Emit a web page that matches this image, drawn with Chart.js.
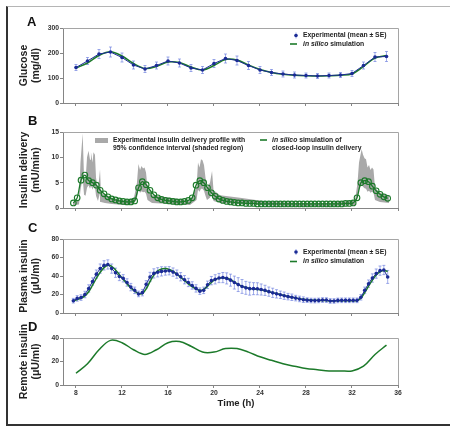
<!DOCTYPE html>
<html>
<head>
<meta charset="utf-8">
<script src="https://cdn.jsdelivr.net/npm/chart.js@4.4.1/dist/chart.umd.min.js"></script>
<style>
    body { margin: 0; background: #fff; }
    #fig { position: relative; width: 450px; height: 434px; overflow: hidden; font-family: 'Liberation Sans', Arial, sans-serif; }
    #frame { position: absolute; left: 6px; top: 6px; width: 470px; height: 417px; border-left: 2px solid #333; border-top: 1px solid #b5b5b5; border-bottom: 2px solid #333; }
    .panel { position: absolute; left: 0; width: 450px; }
    .panel canvas { display: block; }
    .tag { position: absolute; font-weight: bold; font-size: 13px; line-height: 13px; color: #111; }
    #xtitle { position: absolute; left: 186px; width: 100px; top: 397px; text-align: center; font-weight: bold; font-size: 9.5px; line-height: 11px; color: #222; }
</style>
</head>
<body>
<div id="fig">
    <div id="frame"></div>
    <div class="panel" style="top:18px;height:91px"><canvas id="chartA" width="450" height="91"></canvas></div>
    <div class="panel" style="top:122px;height:92px"><canvas id="chartB" width="450" height="92"></canvas></div>
    <div class="panel" style="top:229px;height:90px"><canvas id="chartC" width="450" height="90"></canvas></div>
    <div class="panel" style="top:320px;height:80px"><canvas id="chartD" width="450" height="80"></canvas></div>
    <div class="tag" style="left:27px;top:15px">A</div>
    <div class="tag" style="left:28px;top:114px">B</div>
    <div class="tag" style="left:28px;top:221px">C</div>
    <div class="tag" style="left:28px;top:320px">D</div>
    <div id="xtitle">Time (h)</div>
</div>
<script>
// ---- time axis (hours) ----
const X_MIN = 6.87;
const X_MAX = 36;
const TICK_HOURS = [8, 12, 16, 20, 24, 28, 32, 36];
const SAMPLE_START = 7.77;   // first 20-min sample
const SAMPLE_STEP = 1 / 3;   // 20 min
const HOURS = [8, 9, 10, 11, 12, 13, 14, 15, 16, 17, 18, 19, 20, 21, 22, 23, 24, 25, 26, 27, 28, 29, 30, 31, 32, 33, 34, 35];

// ---- A: glucose (mg/dl), hourly ----
const glucoseExp = [142, 168, 196, 204, 182, 152, 136, 150, 168, 160, 140, 132, 158, 178, 170, 150, 132, 122, 116, 112, 110, 108, 110, 112, 118, 150, 184, 186];
const glucoseErr = [12, 14, 18, 20, 18, 16, 14, 14, 16, 16, 14, 14, 16, 18, 18, 16, 14, 12, 12, 12, 10, 10, 10, 10, 12, 14, 18, 20];
const glucoseSim = [140, 160, 190, 205, 188, 158, 138, 146, 164, 162, 144, 132, 150, 174, 172, 152, 134, 122, 115, 111, 109, 108, 109, 111, 116, 146, 180, 190];

// ---- B: insulin delivery (mU/min) ----
const deliveryTimes = [7.74, 8.26, 8.39, 8.58, 8.70, 8.83, 8.96, 9.09, 9.22, 9.30, 9.44, 9.52, 9.65, 9.74, 9.91, 10.09, 10.17, 10.52, 11.13, 12.26,
    13.04, 13.30, 13.43, 13.57, 13.70, 13.83, 13.96, 14.09, 14.22, 14.61, 16.17, 17.91, 18.48, 18.61, 18.74, 18.87, 19.00, 19.13, 19.26, 19.39,
    19.65, 19.83, 19.96, 20.52, 22.26, 24.87, 27.48, 30.09, 32.26, 32.48, 32.61, 32.74, 32.84, 32.96, 33.09, 33.22, 33.35, 33.48, 33.61, 33.74,
    33.87, 34.00, 34.43, 35.22];
const deliveryUpper = [1.2, 1.5, 9.0, 14.7, 6.0, 5.5, 10.0, 11.3, 9.5, 11.0, 9.0, 11.0, 10.5, 6.0, 3.5, 7.6, 3.0, 2.5, 2.0, 1.5,
    2.0, 5.0, 8.7, 7.5, 8.3, 7.8, 8.0, 7.0, 4.0, 2.5, 2.0, 1.5, 4.0, 9.0, 8.0, 9.6, 9.4, 8.5, 6.0, 4.0,
    5.0, 7.3, 3.5, 2.5, 2.0, 1.2, 1.0, 1.0, 1.5, 5.0, 9.0, 10.5, 11.6, 10.5, 9.8, 9.6, 8.0, 8.5, 7.5, 8.0,
    7.6, 4.0, 3.0, 2.5];
const deliveryLower = [0.6, 0.7, 3.5, 6.0, 2.6, 2.4, 4.0, 4.5, 3.8, 4.4, 3.6, 4.4, 4.2, 2.4, 1.4, 3.0, 1.2, 1.0, 0.8, 0.6,
    0.8, 2.0, 3.5, 3.0, 3.3, 3.1, 3.2, 2.8, 1.6, 1.0, 0.8, 0.6, 1.6, 3.6, 3.2, 3.8, 3.8, 3.4, 2.4, 1.6,
    2.0, 2.9, 1.4, 1.0, 0.8, 0.5, 0.4, 0.4, 0.6, 2.0, 3.6, 4.2, 4.6, 4.2, 3.9, 3.8, 3.2, 3.4, 3.0, 3.2,
    3.0, 1.6, 1.2, 1.0];
const deliverySim = [1.0, 2.0, 5.5, 6.5, 5.4, 5.0, 4.5, 3.5, 2.8, 2.2,
    1.8, 1.6, 1.4, 1.3, 1.2, 1.2, 1.4, 4.0, 5.2, 4.6,
    3.5, 2.6, 2.0, 1.7, 1.5, 1.4, 1.3, 1.2, 1.2, 1.3,
    1.5, 2.0, 4.5, 5.4, 5.0, 4.0, 3.0, 2.3, 1.8, 1.5,
    1.3, 1.2, 1.1, 1.0, 1.0, 0.9, 0.9, 0.9, 0.8, 0.8,
    0.8, 0.8, 0.8, 0.8, 0.8, 0.8, 0.8, 0.8, 0.8, 0.8,
    0.8, 0.8, 0.8, 0.8, 0.8, 0.8, 0.8, 0.8, 0.8, 0.8,
    0.8, 0.9, 0.9, 1.0, 2.0, 5.0, 5.4, 5.2, 4.3, 3.4,
    2.7, 2.2, 1.9];

// ---- C: plasma insulin (uU/ml), 20-min samples ----
const plasmaExp = [13.3, 15.8, 16.7, 20.0, 26.5, 34.0, 42.0, 48.0, 51.5, 52.5,
    48.0, 43.5, 39.5, 37.5, 33.0, 28.0, 24.5, 20.6, 22.0, 31.0,
    39.0, 42.8, 44.0, 45.0, 45.4, 45.7, 44.2, 42.0, 39.2, 36.0,
    33.0, 29.8, 26.6, 23.6, 24.5, 30.5, 35.0, 36.4, 37.8, 38.3,
    37.4, 35.5, 32.9, 30.7, 28.7, 27.2, 26.3, 26.3, 26.2, 25.4,
    24.5, 23.1, 21.8, 20.7, 19.7, 18.7, 17.7, 17.0, 16.1, 15.2,
    14.4, 13.9, 13.5, 13.4, 13.6, 14.0, 14.0, 13.0, 13.0, 13.6,
    13.7, 13.7, 13.7, 13.7, 13.7, 17.0, 24.5, 31.7, 37.8, 42.6,
    45.8, 46.5, 39.0];
const plasmaErr = [2.5, 3, 3, 3.5, 4, 4, 4.5, 5, 5, 5,
    5, 5, 4.5, 4, 4, 4, 3.5, 3, 3.5, 4,
    5, 5, 5, 5, 4.5, 4.5, 4.5, 4.5, 4.5, 4.5,
    4.5, 4, 4, 3.5, 3.5, 4, 4.5, 5, 5, 5.5,
    6, 6.5, 7, 7.5, 7.5, 7, 7, 6.5, 6.5, 6,
    5.5, 5, 5, 4.5, 4, 4, 3.5, 3.5, 3, 3,
    3, 2.5, 2.5, 2.5, 2.5, 2.5, 2.5, 2.5, 2.5, 2.5,
    2.5, 2.5, 2.5, 2.5, 2.5, 3, 3.5, 4, 4.5, 5,
    5, 5, 7];
const plasmaSim = [13, 14.5, 16, 18.5, 23, 30, 37.5, 44, 49, 51.5,
    50.5, 46.5, 41.5, 36.5, 31.5, 27, 23.5, 21, 21, 26,
    34, 41, 45.5, 47.5, 48, 47, 45, 42, 38.5, 35,
    31.5, 28.5, 26, 24.5, 25.5, 29, 33, 36, 37.5, 38,
    37.5, 36, 33.5, 31, 29, 27.5, 26.5, 26, 25.5, 25,
    24, 23, 22, 21, 20, 19, 18, 17, 16.2, 15.5,
    14.8, 14.3, 14, 13.8, 13.6, 13.5, 13.4, 13.3, 13.3, 13.3,
    13.3, 13.3, 13.3, 13.3, 13.5, 16, 22, 29, 35.5, 41,
    44.5, 46, 45];

// ---- D: remote insulin (uU/ml), hourly ----
const remoteSim = [10, 18, 30, 38, 36, 30, 26, 30, 36, 37, 33, 28, 28, 31, 31, 28, 24, 21, 18, 16, 14, 13, 12, 12, 12, 16, 26, 34];

const FAMILY = "'Liberation Sans', Arial, sans-serif";
const AXIS = '#858585';
const BOX = '#a5a5a5';
const GRAY = '#a9a9a9';
const GREEN = '#1c7a2a';
const BLUE = '#1b2b95';
const ERR = 'rgba(95,115,220,0.75)';
const TICK_FONT = { family: FAMILY, size: 6.8, weight: 'bold' };
const TITLE_FONT = { family: FAMILY, size: 10.5, weight: 'bold', lineHeight: 1.2 };

Chart.defaults.font.family = FAMILY;

const sampleTimes = plasmaExp.map((_, i) => SAMPLE_START + i * SAMPLE_STEP);
const toPoints = (times, values) => values.map((v, i) => ({ x: times[i], y: v }));

// light top/right frame of each plot
const plotBox = {
    id: 'plotBox',
    beforeDatasetsDraw(chart) {
        const { ctx, chartArea: a } = chart;
        ctx.save();
        ctx.strokeStyle = BOX;
        ctx.lineWidth = 1;
        ctx.beginPath();
        ctx.moveTo(a.left, a.top + 0.5);
        ctx.lineTo(a.right + 0.5, a.top + 0.5);
        ctx.lineTo(a.right + 0.5, a.bottom);
        ctx.stroke();
        ctx.restore();
    }
};

// vertical SE bars, drawn through the chart scales
const errorBars = {
    id: 'errorBars',
    beforeDatasetsDraw(chart) {
        const { ctx, chartArea: a, scales: { x, y } } = chart;
        ctx.save();
        ctx.beginPath();
        ctx.rect(a.left, a.top, a.right - a.left, a.bottom - a.top);
        ctx.clip();
        chart.data.datasets.forEach(ds => {
            if (!ds.errors) return;
            ctx.strokeStyle = ERR;
            ctx.lineWidth = 0.8;
            ds.data.forEach((p, j) => {
                const e = ds.errors[j];
                const px = x.getPixelForValue(p.x);
                const top = y.getPixelForValue(p.y + e);
                const bot = y.getPixelForValue(p.y - e);
                ctx.beginPath();
                ctx.moveTo(px, top); ctx.lineTo(px, bot);
                ctx.moveTo(px - 1.5, top); ctx.lineTo(px + 1.5, top);
                ctx.moveTo(px - 1.5, bot); ctx.lineTo(px + 1.5, bot);
                ctx.stroke();
            });
        });
        ctx.restore();
    }
};

function legendPlugin(items) {
    return {
        id: 'panelLegend',
        afterDatasetsDraw(chart) {
            const { ctx, chartArea: a } = chart;
            ctx.save();
            items.forEach(it => {
                const mx = a.left + it.dx;
                const my = a.top + it.dy;
                if (it.kind === 'box') {
                    ctx.fillStyle = GRAY;
                    ctx.fillRect(mx, my - 2.5, 13, 5);
                } else if (it.kind === 'line') {
                    ctx.strokeStyle = GREEN;
                    ctx.lineWidth = 1.6;
                    ctx.beginPath();
                    ctx.moveTo(mx, my);
                    ctx.lineTo(mx + 7, my);
                    ctx.stroke();
                } else if (it.kind === 'dot') {
                    ctx.strokeStyle = ERR;
                    ctx.lineWidth = 0.8;
                    ctx.beginPath();
                    ctx.moveTo(mx, my - 3); ctx.lineTo(mx, my + 3);
                    ctx.stroke();
                    ctx.fillStyle = BLUE;
                    ctx.beginPath();
                    ctx.arc(mx, my, 1.8, 0, Math.PI * 2);
                    ctx.fill();
                }
                it.lines.forEach((line, k) => {
                    let tx = a.left + it.tx;
                    const ty = my + k * 8;
                    line.forEach(([text, italic]) => {
                        ctx.font = `${italic ? 'italic ' : ''}bold 6.8px ${FAMILY}`;
                        ctx.fillStyle = '#222';
                        ctx.textBaseline = 'middle';
                        ctx.textAlign = 'left';
                        ctx.fillText(text, tx, ty);
                        tx += ctx.measureText(text).width;
                    });
                });
            });
            ctx.restore();
        }
    };
}

function xAxis(showLabels, height) {
    return {
        type: 'linear',
        min: X_MIN,
        max: X_MAX,
        afterBuildTicks: s => { s.ticks = TICK_HOURS.map(v => ({ value: v })); },
        afterFit: s => { s.height = height; s.paddingLeft = 0; s.paddingRight = 0; },
        grid: { drawOnChartArea: false, drawTicks: true, tickLength: 3, color: AXIS },
        border: { color: AXIS, width: 1 },
        ticks: { display: showLabels, font: TICK_FONT, color: '#333', padding: 1, maxRotation: 0, autoSkip: false }
    };
}

function yAxis(min, max, step, title) {
    return {
        min: min,
        max: max,
        afterFit: s => { s.width = 63; s.paddingTop = 0; s.paddingBottom = 0; },
        grid: { drawOnChartArea: false, drawTicks: true, tickLength: 3, color: AXIS },
        border: { color: AXIS, width: 1 },
        ticks: { stepSize: step, font: TICK_FONT, color: '#333', padding: 1 },
        title: { display: true, text: title, font: TITLE_FONT, color: '#222', padding: { top: 17.7, bottom: 0 } }
    };
}

function makePanel(id, cfg) {
    return new Chart(document.getElementById(id), {
        type: 'line',
        data: { datasets: cfg.datasets },
        options: {
            responsive: false,
            animation: false,
            devicePixelRatio: 1,
            layout: { padding: { top: cfg.padTop, right: 52, left: 0, bottom: 0 } },
            plugins: { legend: { display: false }, tooltip: { enabled: false } },
            scales: { x: xAxis(cfg.xLabels, cfg.xHeight), y: cfg.y }
        },
        plugins: [plotBox, errorBars, legendPlugin(cfg.legend)]
    });
}

const expStyle = { borderColor: BLUE, borderWidth: 1, pointRadius: 1.8, pointBackgroundColor: BLUE, pointBorderWidth: 0, tension: 0 };
const simStyle = { borderColor: GREEN, borderWidth: 1.5, pointRadius: 0, tension: 0.35 };

makePanel('chartA', {
    padTop: 10, xLabels: false, xHeight: 6,
    y: yAxis(0, 300, 100, ['Glucose', '(mg/dl)']),
    datasets: [
        { data: toPoints(HOURS, glucoseExp), errors: glucoseErr, ...expStyle },
        { data: toPoints(HOURS, glucoseSim), ...simStyle }
    ],
    legend: [
        { kind: 'dot', dx: 233, dy: 7.5, tx: 240, lines: [[['Experimental (mean \u00b1 SE)']]] },
        { kind: 'line', dx: 227, dy: 16, tx: 240, lines: [[['in silico', true], [' simulation']]] }
    ]
});

makePanel('chartB', {
    padTop: 10, xLabels: false, xHeight: 6,
    y: yAxis(0, 15, 5, ['Insulin delivery', '(mU/min)']),
    datasets: [
        { data: toPoints(sampleTimes, deliverySim), borderColor: GREEN, borderWidth: 1.3, pointRadius: 2.8, pointStyle: 'circle',
          pointBorderColor: GREEN, pointBorderWidth: 1.1, pointBackgroundColor: 'rgba(0,0,0,0)', tension: 0.3 },
        { data: toPoints(deliveryTimes, deliveryUpper), fill: '+1', backgroundColor: GRAY, borderColor: 'rgba(0,0,0,0)', borderWidth: 0, pointRadius: 0, tension: 0 },
        { data: toPoints(deliveryTimes, deliveryLower), fill: false, borderColor: 'rgba(0,0,0,0)', borderWidth: 0, pointRadius: 0, tension: 0 }
    ],
    legend: [
        { kind: 'box', dx: 32, dy: 8.5, tx: 50, lines: [[['Experimental insulin delivery profile with']], [['95% confidence interval (shaded region)']]] },
        { kind: 'line', dx: 197, dy: 8, tx: 209, lines: [[['in silico', true], [' simulation of']], [['closed-loop insulin delivery']]] }
    ]
});

makePanel('chartC', {
    padTop: 10, xLabels: false, xHeight: 6,
    y: yAxis(0, 80, 20, ['Plasma insulin', '(\u03bcU/ml)']),
    datasets: [
        { data: toPoints(sampleTimes, plasmaExp), errors: plasmaErr, ...expStyle },
        { data: toPoints(sampleTimes, plasmaSim), ...simStyle }
    ],
    legend: [
        { kind: 'dot', dx: 233, dy: 13, tx: 240, lines: [[['Experimental (mean \u00b1 SE)']]] },
        { kind: 'line', dx: 227, dy: 22.5, tx: 240, lines: [[['in silico', true], [' simulation']]] }
    ]
});

makePanel('chartD', {
    padTop: 18, xLabels: true, xHeight: 15,
    y: yAxis(0, 40, 20, ['Remote insulin', '(\u03bcU/ml)']),
    datasets: [
        { data: toPoints(HOURS, remoteSim), ...simStyle }
    ],
    legend: []
});
</script>
</body>
</html>
